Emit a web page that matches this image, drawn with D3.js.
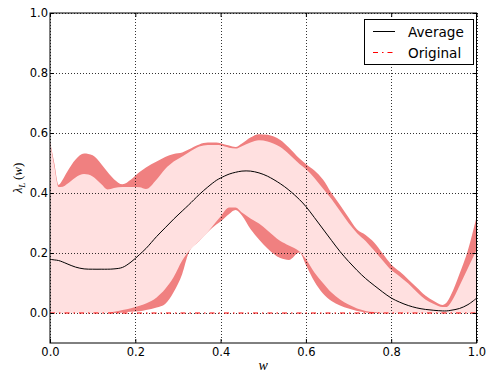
<!DOCTYPE html>
<html>
<head>
<meta charset="utf-8">
<script src="https://cdn.jsdelivr.net/npm/d3@7"></script>
<style>
  body { margin: 0; background: #fff; }
  svg { display: block; }
</style>
</head>
<body>
<svg id="chart" width="487" height="376"></svg>
<script>
// Sample positions along w
const w = [0, 0.01, 0.02, 0.03, 0.04, 0.06, 0.08, 0.10, 0.12, 0.135,
           0.15, 0.17, 0.19, 0.21, 0.225, 0.25, 0.27, 0.29, 0.31, 0.325,
           0.35, 0.37, 0.39, 0.40, 0.42, 0.435, 0.45, 0.47, 0.49, 0.51,
           0.54, 0.56, 0.585, 0.60, 0.62, 0.64, 0.66, 0.68, 0.70, 0.72,
           0.74, 0.76, 0.78, 0.80, 0.82, 0.84, 0.86, 0.88, 0.90, 0.92,
           0.93, 0.94, 0.96, 0.98, 1.0];

// Full envelope (max / min over all runs)
const outerUpper = [0.571, 0.50, 0.427, 0.445, 0.47, 0.512, 0.532, 0.526, 0.497, 0.47,
                    0.446, 0.429, 0.445, 0.47, 0.485, 0.505, 0.52, 0.53, 0.535, 0.545,
                    0.562, 0.568, 0.568, 0.566, 0.558, 0.553, 0.565, 0.585, 0.596, 0.594,
                    0.577, 0.552, 0.515, 0.497, 0.475, 0.445, 0.40, 0.36, 0.318, 0.278,
                    0.26, 0.235, 0.198, 0.162, 0.138, 0.112, 0.085, 0.058, 0.04, 0.027,
                    0.035, 0.06, 0.13, 0.21, 0.32];
const outerLower = [0, 0, 0, 0, 0, 0, 0, 0, 0, 0,
                    0, 0.002, 0.004, 0.006, 0.01, 0.018, 0.03, 0.07, 0.13, 0.2,
                    0.24, 0.27, 0.295, 0.305, 0.33, 0.343, 0.325, 0.28, 0.245, 0.215,
                    0.183, 0.177, 0.202, 0.16, 0.105, 0.065, 0.04, 0.025, 0.015, 0.007,
                    0.002, 0, 0, 0, 0, 0, 0, 0, 0, 0,
                    0, 0, 0, 0, 0];

// Inner band
const innerUpper = [0.571, 0.49, 0.42, 0.421, 0.43, 0.452, 0.463, 0.455, 0.43, 0.412,
                    0.417, 0.42, 0.42, 0.419, 0.413, 0.445, 0.48, 0.505, 0.522, 0.535,
                    0.555, 0.56, 0.56, 0.559, 0.551, 0.548, 0.556, 0.568, 0.576, 0.572,
                    0.553, 0.53, 0.497, 0.48, 0.45, 0.415, 0.38, 0.34, 0.30, 0.266,
                    0.24, 0.208, 0.175, 0.143, 0.122, 0.098, 0.07, 0.045, 0.03, 0.02,
                    0.02, 0.035, 0.09, 0.15, 0.21];
const innerLower = [0, 0, 0, 0, 0, 0, 0, 0, 0, 0,
                    0.004, 0.01, 0.016, 0.024, 0.032, 0.052, 0.08, 0.12, 0.175, 0.205,
                    0.24, 0.27, 0.305, 0.322, 0.352, 0.352, 0.335, 0.315, 0.298, 0.275,
                    0.24, 0.225, 0.205, 0.18, 0.135, 0.10, 0.068, 0.045, 0.028, 0.015,
                    0.007, 0.003, 0, 0, 0, 0, 0, 0, 0, 0,
                    0, 0, 0, 0, 0];

// Mean curve
const average = [0.179, 0.177, 0.175, 0.17, 0.164, 0.153, 0.147, 0.146, 0.146, 0.146,
                 0.147, 0.152, 0.17, 0.195, 0.215, 0.255, 0.284, 0.313, 0.34, 0.36,
                 0.395, 0.42, 0.442, 0.45, 0.463, 0.469, 0.473, 0.473, 0.467, 0.456,
                 0.431, 0.41, 0.378, 0.355, 0.318, 0.28, 0.242, 0.205, 0.172, 0.142,
                 0.115, 0.092, 0.07, 0.05, 0.036, 0.025, 0.017, 0.012, 0.009, 0.007,
                 0.007, 0.009, 0.015, 0.028, 0.049];

// Reference curve
const originalW = [0, 0.25, 0.5, 0.75, 1.0];
const original = [0, 0, 0, 0, 0];

const xTicks = [0, 0.2, 0.4, 0.6, 0.8, 1.0];
const yTicks = [0, 0.2, 0.4, 0.6, 0.8, 1.0];
const legendLabels = ["Average", "Original"];

const svg = d3.select("#chart");
const plotL = 50, plotR = 476.5, plotT = 13, plotB = 343;

const x = d3.scaleLinear().domain([0, 1]).range([plotL, plotR]);
const y = d3.scaleLinear().domain([-0.1, 1.0]).range([plotB, plotT]);

const pts = w.map((v, i) => ({
  w: v, ou: outerUpper[i], ol: outerLower[i],
  iu: innerUpper[i], il: innerLower[i], avg: average[i]
}));

const curve = d3.curveMonotoneX;

// Envelope fills
svg.append("path")
  .attr("d", d3.area().curve(curve)
    .x(d => x(d.w)).y0(d => y(d.ol)).y1(d => y(d.ou))(pts))
  .attr("fill", "#F08080");

svg.append("path")
  .attr("d", d3.area().curve(curve)
    .x(d => x(d.w)).y0(d => y(d.il)).y1(d => y(d.iu))(pts))
  .attr("fill", "#FFE0E0");

// Grid
const grid = svg.append("g")
  .attr("stroke", "#000")
  .attr("stroke-width", 0.8)
  .attr("stroke-dasharray", "1,2")
  .attr("shape-rendering", "crispEdges");
xTicks.forEach(t => grid.append("line")
  .attr("x1", Math.round(x(t)) + 0.5).attr("x2", Math.round(x(t)) + 0.5)
  .attr("y1", plotT).attr("y2", plotB));
yTicks.forEach(t => grid.append("line")
  .attr("y1", Math.round(y(t)) + 0.5).attr("y2", Math.round(y(t)) + 0.5)
  .attr("x1", plotL).attr("x2", plotR));

// Original curve
svg.append("path")
  .attr("d", d3.line().x((d, i) => x(originalW[i])).y(d => y(d))(original))
  .attr("fill", "none")
  .attr("stroke", "#FF0000")
  .attr("stroke-width", 1)
  .attr("stroke-dasharray", "5,4,1.5,4");

// Average curve
svg.append("path")
  .attr("d", d3.line().curve(d3.curveCatmullRom).x(d => x(d.w)).y(d => y(d.avg))(pts))
  .attr("fill", "none")
  .attr("stroke", "#000")
  .attr("stroke-width", 1);

// Axes (ticks point inward on all four sides)
const tickFont = "DejaVu Sans, sans-serif";
const fmt = d3.format(".1f");

const gx = svg.append("g").attr("transform", `translate(0,${plotB})`)
  .call(d3.axisBottom(x).tickValues(xTicks).tickFormat(fmt).tickSize(-4).tickPadding(4.5));
const gy = svg.append("g").attr("transform", `translate(${plotL},0)`)
  .call(d3.axisLeft(y).tickValues(yTicks).tickFormat(fmt).tickSize(-4).tickPadding(2));
const gt = svg.append("g").attr("transform", `translate(0,${plotT})`)
  .call(d3.axisTop(x).tickValues(xTicks).tickFormat("").tickSize(-4));
const gr = svg.append("g").attr("transform", `translate(${plotR},0)`)
  .call(d3.axisRight(y).tickValues(yTicks).tickFormat("").tickSize(-4));

[gx, gy, gt, gr].forEach(g => {
  g.select(".domain").remove();
  g.selectAll(".tick line").attr("stroke", "#000").attr("stroke-width", 1);
  g.selectAll("text").attr("font-family", tickFont).attr("font-size", 11.5).attr("fill", "#000");
});

// Frame
svg.append("rect")
  .attr("x", plotL).attr("y", plotT)
  .attr("width", plotR - plotL).attr("height", plotB - plotT)
  .attr("fill", "none").attr("stroke", "#000").attr("stroke-width", 1);

// Axis labels
svg.append("text")
  .attr("x", (plotL + plotR) / 2).attr("y", 370)
  .attr("text-anchor", "middle")
  .attr("font-family", "Liberation Serif, serif")
  .attr("font-style", "italic")
  .attr("font-size", 14)
  .text("w");

const yl = svg.append("text")
  .attr("transform", `translate(22,${(plotT + plotB) / 2}) rotate(-90)`)
  .attr("text-anchor", "middle")
  .attr("font-family", "Liberation Serif, serif")
  .attr("font-size", 13);
yl.append("tspan").attr("font-style", "italic").text("λ");
yl.append("tspan").attr("font-style", "italic").attr("font-size", 9).attr("dy", 3).text("L");
yl.append("tspan").attr("dy", -3).text("\u2009(");
yl.append("tspan").attr("font-style", "italic").text("w");
yl.append("tspan").text(")");

// Legend
const lg = svg.append("g");
lg.append("rect")
  .attr("x", 364.5).attr("y", 19.5).attr("width", 109).attr("height", 45)
  .attr("fill", "#fff").attr("stroke", "#000").attr("stroke-width", 1);
const legendStyles = [
  { stroke: "#000", dash: null },
  { stroke: "#FF0000", dash: "5,4,1.5,4" }
];
legendLabels.forEach((lab, i) => {
  const yy = 31.5 + i * 21;
  lg.append("line")
    .attr("x1", 373).attr("x2", 395).attr("y1", yy).attr("y2", yy)
    .attr("stroke", legendStyles[i].stroke).attr("stroke-width", 1)
    .attr("stroke-dasharray", legendStyles[i].dash);
  lg.append("text")
    .attr("x", 408).attr("y", yy + 5)
    .attr("font-family", tickFont).attr("font-size", 13.6)
    .text(lab);
});
</script>
</body>
</html>
